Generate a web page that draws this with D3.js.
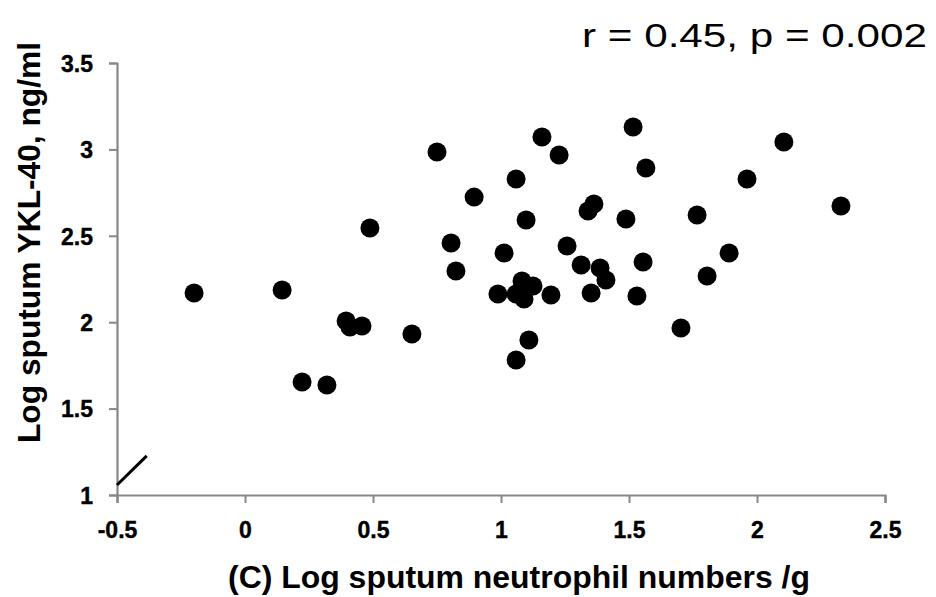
<!DOCTYPE html>
<html>
<head>
<meta charset="utf-8">
<script src="https://cdn.jsdelivr.net/npm/d3@7"></script>
<style>
  html, body { margin: 0; padding: 0; background: #fff; }
  svg { display: block; }
  text { font-family: "Liberation Sans", Arial, sans-serif; fill: #000; }
</style>
</head>
<body>
<script>
// ---- data ----
const xValues = [-0.199, 0.145, 0.223, 0.320, 0.395, 0.410, 0.457, 0.488, 0.652, 0.750,
                 0.805, 0.824, 0.895, 0.988, 1.012, 1.059, 1.059, 1.059, 1.082, 1.090,
                 1.098, 1.109, 1.125, 1.160, 1.195, 1.227, 1.258, 1.313, 1.340, 1.352,
                 1.363, 1.387, 1.410, 1.488, 1.516, 1.531, 1.555, 1.566, 1.703, 1.766,
                 1.805, 1.891, 1.961, 2.105, 2.328];
const yValues = [2.169, 2.186, 1.654, 1.637, 2.007, 1.972, 1.978, 2.545, 1.932, 2.985,
                 2.458, 2.296, 2.724, 2.163, 2.400, 2.829, 2.163, 1.781, 2.238, 2.134,
                 2.591, 1.897, 2.210, 3.072, 2.157, 2.968, 2.441, 2.331, 2.644, 2.169,
                 2.684, 2.314, 2.244, 2.597, 3.130, 2.152, 2.348, 2.892, 1.966, 2.620,
                 2.267, 2.400, 2.829, 3.043, 2.672];
const xTicks = [-0.5, 0, 0.5, 1, 1.5, 2, 2.5];
const xTickLabels = ["-0.5", "0", "0.5", "1", "1.5", "2", "2.5"];
const yTicks = [1, 1.5, 2, 2.5, 3, 3.5];
const yTickLabels = ["1", "1.5", "2", "2.5", "3", "3.5"];
const fitSegmentX = [-0.5, -0.384];
const fitSegmentY = [1.058, 1.226];
const titleText = "r = 0.45, p = 0.002";
const xTitle = "(C) Log sputum neutrophil numbers /g";
const yTitle = "Log sputum YKL-40, ng/ml";

// ---- layout ----
const W = 936, H = 597;
const svg = d3.select("body").append("svg").attr("width", W).attr("height", H);

const x = d3.scaleLinear().domain([-0.5, 2.5]).range([117, 885]);
const y = d3.scaleLinear().domain([1, 3.5]).range([495, 63]);
const axisColor = "#878787";

// x axis
const gx = svg.append("g").attr("transform", `translate(0,${y(1)})`)
  .call(d3.axisBottom(x).tickValues(xTicks).tickFormat((d, i) => xTickLabels[i]).tickSizeOuter(0).tickSize(8));
gx.select(".domain").attr("stroke", axisColor).attr("stroke-width", 2.2);
gx.selectAll(".tick line").attr("stroke", axisColor).attr("stroke-width", 2);
gx.selectAll(".tick text").attr("font-family", "'Liberation Sans', Arial, sans-serif")
  .attr("font-size", 23).attr("font-weight", "bold").attr("fill", "#000")
  .attr("stroke", "#000").attr("stroke-width", 0.4)
  .attr("y", 0).attr("dy", 0).attr("transform", "translate(0,43)");

// y axis
const gy = svg.append("g").attr("transform", `translate(${x(-0.5)},0)`)
  .call(d3.axisLeft(y).tickValues(yTicks).tickFormat((d, i) => yTickLabels[i]).tickSizeOuter(0).tickSize(8));
gy.select(".domain").attr("stroke", axisColor).attr("stroke-width", 2.2);
gy.selectAll(".tick line").attr("stroke", axisColor).attr("stroke-width", 2);
gy.selectAll(".tick text").attr("font-family", "'Liberation Sans', Arial, sans-serif")
  .attr("font-size", 23).attr("font-weight", "bold").attr("fill", "#000")
  .attr("stroke", "#000").attr("stroke-width", 0.4)
  .attr("x", -24).attr("dy", "0.36em");

// short fit line segment
svg.append("line")
  .attr("x1", x(fitSegmentX[0])).attr("y1", y(fitSegmentY[0]))
  .attr("x2", x(fitSegmentX[1])).attr("y2", y(fitSegmentY[1]))
  .attr("stroke", "#000").attr("stroke-width", 3);

// points
svg.append("g").selectAll("circle")
  .data(xValues.map((v, i) => [v, yValues[i]]))
  .join("circle")
  .attr("cx", d => x(d[0])).attr("cy", d => y(d[1]))
  .attr("r", 9.5).attr("fill", "#000");

// titles
svg.append("text").attr("x", 582).attr("y", 47)
  .attr("font-size", 34).attr("textLength", 345).attr("lengthAdjust", "spacingAndGlyphs")
  .text(titleText);

svg.append("text").attr("x", 228).attr("y", 588)
  .attr("font-size", 31).attr("font-weight", "bold")
  .attr("textLength", 582).attr("lengthAdjust", "spacingAndGlyphs")
  .text(xTitle);

svg.append("text")
  .attr("transform", "translate(40,443) rotate(-90)")
  .attr("font-size", 31).attr("font-weight", "bold")
  .attr("textLength", 401).attr("lengthAdjust", "spacingAndGlyphs")
  .text(yTitle);
</script>
</body>
</html>
